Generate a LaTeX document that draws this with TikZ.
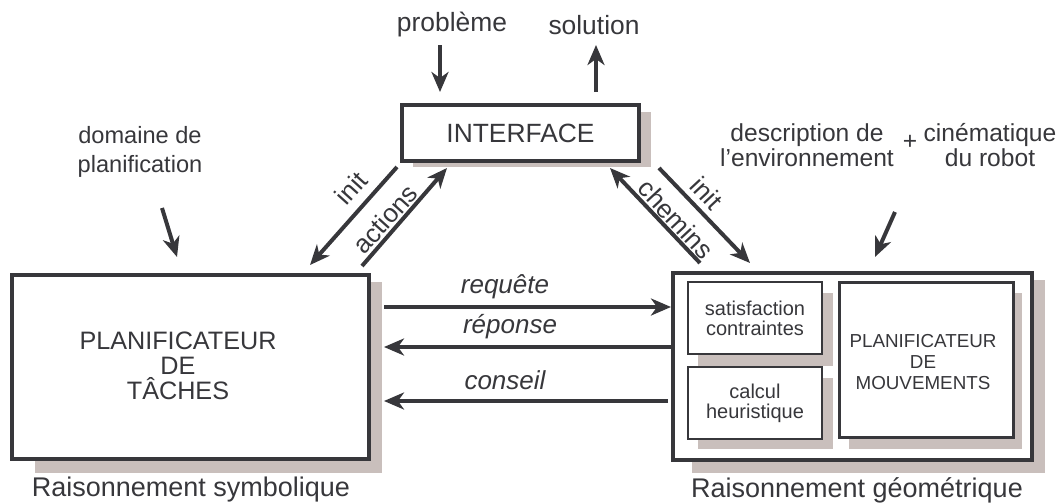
\documentclass[tikz,border=0pt]{standalone}
\usepackage{fontspec}
\setmainfont{Liberation Sans}
\usepackage{tikz}
\usetikzlibrary{arrows.meta}
\usetikzlibrary{calc}

\definecolor{ink}{HTML}{37373B}
\definecolor{shadowgray}{HTML}{C9BFBC}

\begin{document}
\begin{tikzpicture}[x=0.5pt,y=-0.5pt,color=ink,text=ink]
        \useasboundingbox (0,0) rectangle (1057,504);
        \tikzstyle{bigbox} = [draw, line width=2pt, fill=white, inner sep=0pt, align=center]
        \tikzstyle{smallbox} = [draw, line width=1pt, fill=white, inner sep=0pt, align=center, font=\fontsize{10}{10}\selectfont]
        \tikzstyle{arr} = [line width=2pt, -{Stealth[length=10pt,width=8.5pt,inset=3pt]}]
        \tikzstyle{lbl} = [align=center, inner sep=0pt, font=\fontsize{12.3}{12.5}\selectfont]
        \tikzstyle{msg} = [inner sep=0pt, font=\fontsize{13}{14}\selectfont\itshape]
        \tikzstyle{diag} = [inner sep=0pt, font=\fontsize{13}{14}\selectfont]
        \fill[shadowgray] (413,112) rectangle (651,167);
        \fill[shadowgray] (35,282) rectangle (382,473);
        \fill[shadowgray] (692,280) rectangle (1045,473);
        \node[bigbox, minimum width=118.5pt, minimum height=28pt, font=\fontsize{13.2}{14}\selectfont] (interface) at (520.5,133) {INTERFACE};
        \node[bigbox, minimum width=178.5pt, minimum height=92pt] (tache) at (190.5,367) {};
        \node[align=center, inner sep=0pt, font=\fontsize{12.6}{12.5}\selectfont] (tachelbl) at (178,366) {PLANIFICATEUR\\DE\\T\^ACHES};
        \node[bigbox, minimum width=179.5pt, minimum height=93.5pt] (geo) at (852.5,366.5) {};
        \fill[shadowgray] (698,293) rectangle (833,366);
        \fill[shadowgray] (698,378) rectangle (833,449);
        \fill[shadowgray] (849,293) rectangle (1022,449);
        \node[smallbox, minimum width=67pt, minimum height=36pt] (satis) at (755,318) {satisfaction\\contraintes};
        \node[smallbox, minimum width=67pt, minimum height=36pt] (calcul) at (755,403) {calcul\\heuristique};
        \node[smallbox, line width=1.5pt, minimum width=87pt, minimum height=77.5pt] (mouv) at (926,359.5) {};
        \node[align=center, inner sep=0pt, font=\fontsize{9.4}{10.3}\selectfont] (mouvlbl) at (923,362) {PLANIFICATEUR\\DE\\MOUVEMENTS};
        \node[lbl, font=\fontsize{13.2}{14}\selectfont] (prob) at (452,25) {problème};
        \node[lbl, font=\fontsize{13.2}{14}\selectfont] (sol) at (594,25) {solution};
        \node[lbl, font=\fontsize{11.8}{14.5}\selectfont] (domaine) at (140,152) {domaine de\\planification};
        \node[lbl] (descr) at (807,145) {description de\\l'environnement};
        \node[lbl] (plus) at (910,142) {+};
        \node[lbl] (cine) at (990,145) {cinématique\\du robot};
        \node[lbl, font=\fontsize{13.5}{14}\selectfont] (raisS) at (191,490) {Raisonnement symbolique};
        \node[lbl, font=\fontsize{13.5}{14}\selectfont] (raisG) at (857,490) {Raisonnement géométrique};
        \coordinate (probA) at (440,45);
        \coordinate (probB) at (440,92);
        \coordinate (solA) at (596,92);
        \coordinate (solB) at (596,45);
        \coordinate (domA) at (162,208);
        \coordinate (domB) at (177,257);
        \coordinate (cinA) at (895,212);
        \coordinate (cinB) at (875,257);
        \coordinate (initLA) at (397,167);
        \coordinate (initLB) at (310,265);
        \coordinate (actA) at (362,266);
        \coordinate (actB) at (447,168);
        \coordinate (chemA) at (700,263);
        \coordinate (chemB) at (610,168);
        \coordinate (initRA) at (659,168);
        \coordinate (initRB) at (750,263);
        \draw[arr] (probA) -- (probB);
        \draw[arr] (solA) -- (solB);
        \draw[arr] (domA) -- (domB);
        \draw[arr] (cinA) -- (cinB);
        \draw[arr] (initLA) -- (initLB);
        \draw[arr] (actA) -- (actB);
        \draw[arr] (chemA) -- (chemB);
        \draw[arr] (initRA) -- (initRB);
        \draw[arr] ($(tache.east |- 0,307)+(13,0)$) -- (geo.west |- 0,307);
        \draw[arr] (geo.west |- 0,347) -- ($(tache.east |- 0,347)+(13,0)$);
        \draw[arr] ($(geo.west |- 0,401)+(-3,0)$) -- ($(tache.east |- 0,401)+(13,0)$);
        \node[msg] (req) at (505,287) {requête};
        \node[msg] (rep) at (510,327) {réponse};
        \node[msg] (con) at (505,380) {conseil};
        \node[diag, rotate=48] (initL) at (351,188) {init};
        \node[diag, rotate=48] (act) at (385,219) {actions};
        \node[diag, rotate=-47] (chem) at (676,219) {chemins};
        \node[diag, rotate=-47] (initR) at (707,193) {init};
\end{tikzpicture}
\end{document}
